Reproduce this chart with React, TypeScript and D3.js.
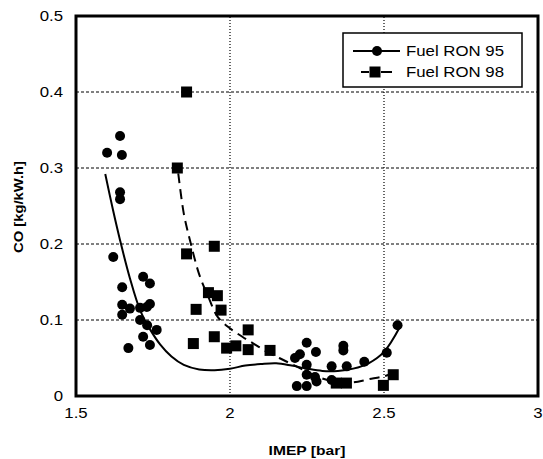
import React from "react";
import * as d3 from "d3";

const xTicks = [1.5, 2, 2.5, 3];
const xTickLabels = ["1.5", "2", "2.5", "3"];
const yTicks = [0, 0.1, 0.2, 0.3, 0.4, 0.5];
const yTickLabels = ["0", "0.1", "0.2", "0.3", "0.4", "0.5"];
const xGrid = [2, 2.5];
const yGrid = [0.1, 0.2, 0.3, 0.4];

const ron95X = [1.601, 1.643, 1.649, 1.643, 1.643, 1.621, 1.65, 1.718, 1.74, 1.65, 1.65, 1.675, 1.708, 1.74, 1.73, 1.708, 1.731, 1.762, 1.718, 1.74, 1.67,
  2.249, 2.279, 2.227, 2.211, 2.249, 2.368, 2.368, 2.33, 2.379, 2.436, 2.509, 2.544, 2.217, 2.249, 2.249, 2.281, 2.276, 2.33, 2.346];
const ron95Y = [0.32, 0.342, 0.317, 0.268, 0.259, 0.183, 0.143, 0.157, 0.148, 0.12, 0.107, 0.115, 0.116, 0.121, 0.117, 0.1, 0.093, 0.087, 0.078, 0.067, 0.063,
  0.07, 0.058, 0.055, 0.05, 0.041, 0.066, 0.06, 0.039, 0.039, 0.045, 0.057, 0.093, 0.013, 0.013, 0.028, 0.019, 0.025, 0.021, 0.017];

const ron98X = [1.859, 1.829, 1.859, 1.949, 1.93, 1.959, 1.89, 1.971, 1.881, 1.949, 1.989, 2.019, 2.059, 2.059, 2.13, 2.345, 2.378, 2.498, 2.53];
const ron98Y = [0.4, 0.3, 0.187, 0.197, 0.136, 0.132, 0.114, 0.113, 0.069, 0.078, 0.063, 0.066, 0.087, 0.061, 0.06, 0.017, 0.017, 0.014, 0.028];

const fit95X = [1.595, 1.62, 1.643, 1.675, 1.708, 1.74, 1.773, 1.81, 1.85, 1.9, 1.95, 2.0, 2.05, 2.1, 2.15, 2.2, 2.25, 2.3, 2.35, 2.4, 2.45, 2.5, 2.552];
const fit95Y = [0.292, 0.245, 0.205, 0.155, 0.113, 0.088, 0.068, 0.052, 0.041, 0.035, 0.034, 0.036, 0.04, 0.042, 0.043, 0.04, 0.036, 0.033, 0.033, 0.036, 0.043, 0.058, 0.091];

const fit98X = [1.832, 1.85, 1.87, 1.9, 1.93, 1.96, 2.0, 2.04, 2.08, 2.12, 2.16, 2.2, 2.25, 2.3, 2.35, 2.4, 2.45, 2.5, 2.53];
const fit98Y = [0.293, 0.24, 0.205, 0.16, 0.13, 0.104, 0.089, 0.078, 0.068, 0.058, 0.05, 0.042, 0.032, 0.023, 0.018, 0.018, 0.022, 0.026, 0.03];

const seriesNames = ["Fuel RON 95", "Fuel RON 98"];

const FONT = "'Liberation Sans', Arial, sans-serif";
const SX = 1.2;

function SText({ x, y, anchor = "start", size = 14, bold = false, rotate = 0, children }: any) {
  const t = rotate
    ? `translate(${x},${y}) rotate(${rotate}) scale(${SX * 0.95},1)`
    : `translate(${x},${y}) scale(${SX},1)`;
  return (
    <text transform={t} textAnchor={anchor} fontFamily={FONT} fontSize={size} fontWeight={bold ? "bold" : "normal"} fill="#000">
      {children}
    </text>
  );
}

export default function App() {
  const W = 543, H = 459;
  const x = d3.scaleLinear().domain([1.5, 3]).range([76, 538]);
  const y = d3.scaleLinear().domain([0, 0.5]).range([396, 16]);
  const line = d3.line<[number, number]>().x(d => x(d[0])).y(d => y(d[1])).curve(d3.curveCatmullRom.alpha(0.5));
  const f95 = fit95X.map((v, i) => [v, fit95Y[i]] as [number, number]);
  const f98 = fit98X.map((v, i) => [v, fit98Y[i]] as [number, number]);
  const sq = 11;
  return (
    <div style={{ position: "absolute", left: 0, top: 0 }}>
      <svg width={W} height={H} style={{ display: "block", background: "#fff" }}>
        <defs>
          <clipPath id="plot">
            <rect x={x(1.5)} y={y(0.5)} width={x(3) - x(1.5)} height={y(0) - y(0.5)} />
          </clipPath>
        </defs>
        <rect x={0} y={0} width={W} height={H} fill="#fff" />
        {yGrid.map(v => (
          <line key={"yg" + v} x1={x(1.5)} x2={x(3)} y1={y(v)} y2={y(v)} stroke="#000" strokeWidth={1} strokeDasharray="3,2" />
        ))}
        {xGrid.map(v => (
          <line key={"xg" + v} x1={x(v)} x2={x(v)} y1={y(0)} y2={y(0.5)} stroke="#000" strokeWidth={1.2} strokeDasharray="1,2" />
        ))}
        <g clipPath="url(#plot)">
          <path d={line(f95) || ""} fill="none" stroke="#000" strokeWidth={2} />
          <path d={line(f98) || ""} fill="none" stroke="#000" strokeWidth={2} strokeDasharray="10,6" />
        </g>
        {ron95X.map((v, i) => (
          <circle key={"c" + i} cx={x(v)} cy={y(ron95Y[i])} r={5} fill="#000" />
        ))}
        {ron98X.map((v, i) => (
          <rect key={"s" + i} x={x(v) - sq / 2} y={y(ron98Y[i]) - sq / 2} width={sq} height={sq} fill="#000" />
        ))}
        <rect x={x(1.5)} y={y(0.5)} width={x(3) - x(1.5)} height={y(0) - y(0.5)} fill="none" stroke="#000" strokeWidth={3} />
        {yTicks.map((v, i) => (
          <SText key={"yt" + v} x={63} y={y(v) + 5} anchor="end">{yTickLabels[i]}</SText>
        ))}
        {xTicks.map((v, i) => (
          <SText key={"xt" + v} x={x(v)} y={418} anchor="middle">{xTickLabels[i]}</SText>
        ))}
        <SText x={307} y={455} anchor="middle" bold size={13}>IMEP [bar]</SText>
        <SText x={23} y={207} anchor="middle" bold size={13} rotate={-90}>CO [kg/kW.h]</SText>
        <g>
          <rect x={343} y={33} width={179} height={54} fill="#fff" stroke="#000" strokeWidth={1.5} />
          <line x1={353} x2={400} y1={51} y2={51} stroke="#000" strokeWidth={2} />
          <circle cx={377} cy={51} r={5} fill="#000" />
          <SText x={406} y={56} size={14}>{seriesNames[0]}</SText>
          <line x1={361} x2={369} y1={72} y2={72} stroke="#000" strokeWidth={2} />
          <line x1={381} x2={392} y1={72} y2={72} stroke="#000" strokeWidth={2} />
          <rect x={375 - sq / 2} y={72 - sq / 2} width={sq} height={sq} fill="#000" />
          <SText x={406} y={77} size={14}>{seriesNames[1]}</SText>
        </g>
      </svg>
    </div>
  );
}
